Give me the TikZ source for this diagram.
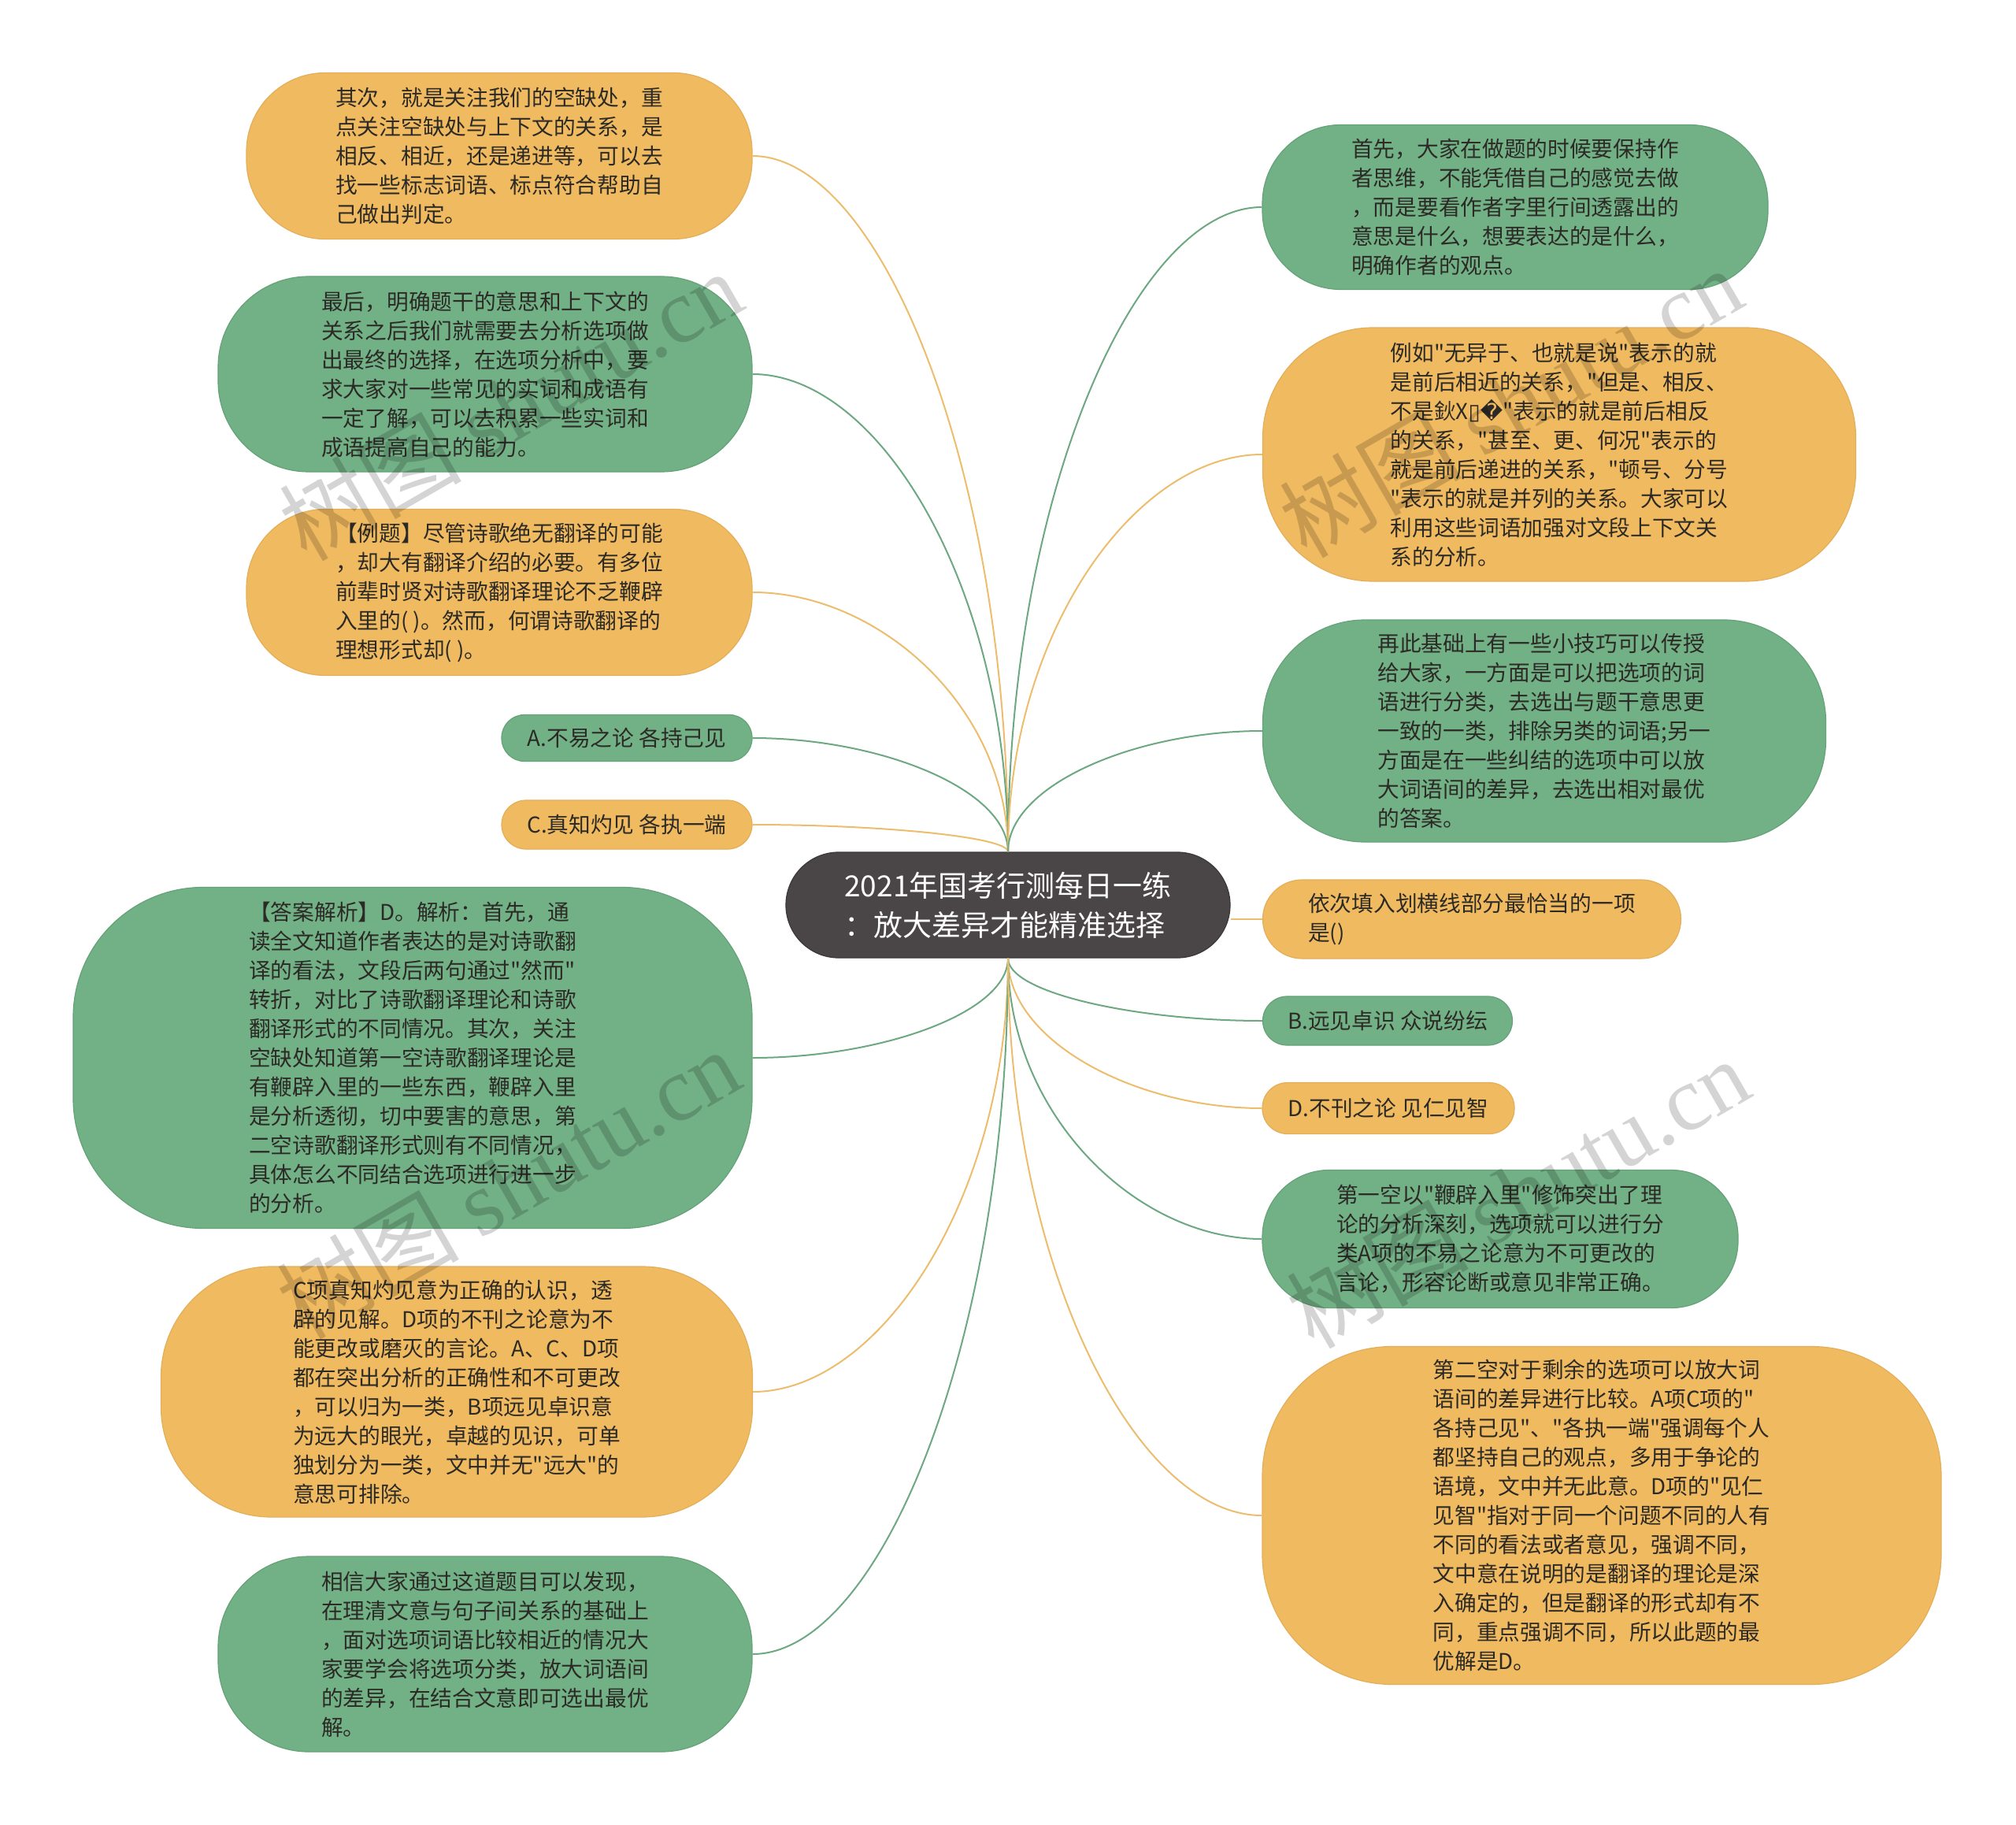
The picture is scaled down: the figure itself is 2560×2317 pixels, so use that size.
\documentclass[tikz,border=0pt]{standalone}
\usepackage{fontspec}
\newfontfamily\cjk{Noto Sans CJK SC}
\newfontfamily\wmserif{Liberation Serif}
\newfontfamily\dejavu{DejaVu Sans}
\usetikzlibrary{calc}
\definecolor{orgfill}{HTML}{F0BA60}
\definecolor{orgdraw}{HTML}{E4AE58}
\definecolor{grnfill}{HTML}{72B085}
\definecolor{grndraw}{HTML}{64A277}
\definecolor{cfill}{HTML}{4A4546}
\definecolor{otext}{HTML}{2C2A26}
\definecolor{olink}{HTML}{EDBD6E}
\definecolor{glink}{HTML}{6DA883}
\newcommand\mmlink[3]{\draw[#1] (#2) .. controls ($(#2)!0.55!(#2 |- #3)$) and ($(#3)!0.5!(#2 |- #3)$) .. (#3);}
\tikzset{
  base/.style={font=\cjk\fontsize{27.7}{37}\selectfont, text=otext, align=left, inner sep=0pt, line width=1.2pt},
  onode/.style={base, fill=orgfill, draw=orgdraw},
  gnode/.style={base, fill=grnfill, draw=grndraw},
  cnode/.style={font=\cjk\fontsize{37}{50}\selectfont, text=white, align=left, inner sep=0pt, fill=cfill, draw=cfill!80!black, line width=1.2pt},
  olk/.style={draw=olink, line width=2pt},
  glk/.style={draw=glink, line width=2pt},
  wm/.style={font=\cjk\fontsize{116}{116}\selectfont, rotate=30, text=black, text opacity=0.17, inner sep=0pt}
}
\begin{document}
\begin{tikzpicture}[x=1pt,y=-1pt]
\useasboundingbox[fill=white] (0,0) rectangle (2560,2317);

% centre
\node[cnode, minimum width=564pt, minimum height=134pt, rounded corners=67pt] (c) at (1280,1149)
  {2021年国考行测每日一练\\：放大差异才能精准选择};

% left side
\node[onode, minimum width=642pt, minimum height=211pt, rounded corners=100pt] (L1) at (634,198)
  {其次，就是关注我们的空缺处，重\\点关注空缺处与上下文的关系，是\\相反、相近，还是递进等，可以去\\找一些标志词语、标点符合帮助自\\己做出判定。};
\node[gnode, minimum width=678pt, minimum height=248pt, rounded corners=115pt] (L2) at (616,475)
  {最后，明确题干的意思和上下文的\\关系之后我们就需要去分析选项做\\出最终的选择，在选项分析中，要\\求大家对一些常见的实词和成语有\\一定了解，可以去积累一些实词和\\成语提高自己的能力。};
\node[onode, minimum width=642pt, minimum height=211pt, rounded corners=100pt] (L3) at (634,752)
  {【例题】尽管诗歌绝无翻译的可能\\，却大有翻译介绍的必要。有多位\\前辈时贤对诗歌翻译理论不乏鞭辟\\入里的( )。然而，何谓诗歌翻译的\\理想形式却( )。};
\node[gnode, minimum width=318pt, minimum height=59pt, rounded corners=29pt] (L4) at (796,937)
  {A.不易之论 各持己见};
\node[onode, minimum width=318pt, minimum height=62pt, rounded corners=31pt] (L5) at (796,1047)
  {C.真知灼见 各执一端};
\node[gnode, minimum width=862pt, minimum height=433pt, rounded corners=165pt] (L6) at (524,1343)
  {【答案解析】D。解析：首先，通\\读全文知道作者表达的是对诗歌翻\\译的看法，文段后两句通过"然而"\\转折，对比了诗歌翻译理论和诗歌\\翻译形式的不同情况。其次，关注\\空缺处知道第一空诗歌翻译理论是\\有鞭辟入里的一些东西，鞭辟入里\\是分析透彻，切中要害的意思，第\\二空诗歌翻译形式则有不同情况，\\具体怎么不同结合选项进行进一步\\的分析。};
\node[onode, minimum width=751pt, minimum height=318pt, rounded corners=140pt] (L7) at (580,1767)
  {C项真知灼见意为正确的认识，透\\辟的见解。D项的不刊之论意为不\\能更改或磨灭的言论。A、C、D项\\都在突出分析的正确性和不可更改\\，可以归为一类，B项远见卓识意\\为远大的眼光，卓越的见识，可单\\独划分为一类，文中并无"远大"的\\意思可排除。};
\node[gnode, minimum width=678pt, minimum height=248pt, rounded corners=115pt] (L8) at (616,2100)
  {相信大家通过这道题目可以发现，\\在理清文意与句子间关系的基础上\\，面对选项词语比较相近的情况大\\家要学会将选项分类，放大词语间\\的差异，在结合文意即可选出最优\\解。};

% right side
\node[gnode, minimum width=642pt, minimum height=209pt, rounded corners=100pt] (R1) at (1924,263)
  {首先，大家在做题的时候要保持作\\者思维，不能凭借自己的感觉去做\\，而是要看作者字里行间透露出的\\意思是什么，想要表达的是什么，\\明确作者的观点。};
\node[onode, minimum width=753pt, minimum height=322pt, rounded corners=140pt] (R2) at (1980,577)
  {例如"无异于、也就是说"表示的就\\是前后相近的关系，"但是、相反、\\不是鈥X{\dejavu ▯�}"表示的就是前后相反\\的关系，"甚至、更、何况"表示的\\就是前后递进的关系，"顿号、分号\\"表示的就是并列的关系。大家可以\\利用这些词语加强对文段上下文关\\系的分析。};
\node[gnode, minimum width=715pt, minimum height=282pt, rounded corners=130pt] (R3) at (1961,928)
  {再此基础上有一些小技巧可以传授\\给大家，一方面是可以把选项的词\\语进行分类，去选出与题干意思更\\一致的一类，排除另类的词语;另一\\方面是在一些纠结的选项中可以放\\大词语间的差异，去选出相对最优\\的答案。};
\node[onode, minimum width=531pt, minimum height=100pt, rounded corners=50pt] (R4) at (1869,1167)
  {依次填入划横线部分最恰当的一项\\是()};
\node[gnode, minimum width=317pt, minimum height=62pt, rounded corners=31pt] (R5) at (1762,1296)
  {B.远见卓识 众说纷纭};
\node[onode, minimum width=320pt, minimum height=65pt, rounded corners=32pt] (R6) at (1763,1407)
  {D.不刊之论 见仁见智};
\node[gnode, minimum width=604pt, minimum height=175pt, rounded corners=85pt] (R7) at (1905,1573)
  {第一空以"鞭辟入里"修饰突出了理\\论的分析深刻，选项就可以进行分\\类A项的不易之论意为不可更改的\\言论，形容论断或意见非常正确。};
\node[onode, minimum width=862pt, minimum height=429pt, rounded corners=165pt] (R8) at (2034,1924)
  {第二空对于剩余的选项可以放大词\\语间的差异进行比较。A项C项的"\\各持己见"、"各执一端"强调每个人\\都坚持自己的观点，多用于争论的\\语境，文中并无此意。D项的"见仁\\见智"指对于同一个问题不同的人有\\不同的看法或者意见，强调不同，\\文中意在说明的是翻译的理论是深\\入确定的，但是翻译的形式却有不\\同，重点强调不同，所以此题的最\\优解是D。};

% connectors
\mmlink{olk}{c.north}{L1.east}
\mmlink{glk}{c.north}{L2.east}
\mmlink{olk}{c.north}{L3.east}
\mmlink{glk}{c.north}{L4.east}
\mmlink{olk}{c.north}{L5.east}
\mmlink{glk}{c.south}{L6.east}
\mmlink{olk}{c.south}{L7.east}
\mmlink{glk}{c.south}{L8.east}
\mmlink{glk}{c.north}{R1.west}
\mmlink{olk}{c.north}{R2.west}
\mmlink{glk}{c.north}{R3.west}
\draw[olk] (c.east |- R4.west) -- (R4.west);
\mmlink{glk}{c.south}{R5.west}
\mmlink{olk}{c.south}{R6.west}
\mmlink{glk}{c.south}{R7.west}
\mmlink{olk}{c.south}{R8.west}

% watermarks
\node[wm] (w1) at (648,514) {树图 {\wmserif shutu.cn}};
\node[wm] (w2) at (1918,510) {树图 {\wmserif shutu.cn}};
\node[wm] (w3) at (645,1502) {树图 {\wmserif shutu.cn}};
\node[wm] (w4) at (1927,1514) {树图 {\wmserif shutu.cn}};
\end{tikzpicture}
\end{document}
